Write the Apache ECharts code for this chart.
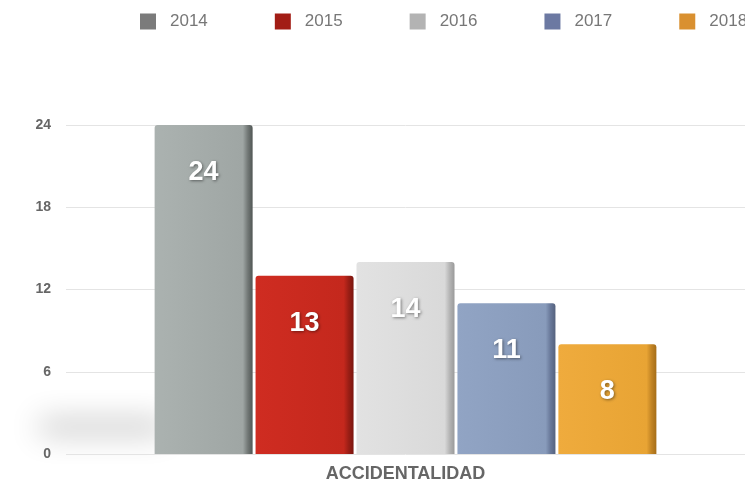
<!DOCTYPE html>
<html>
<head>
<meta charset="utf-8">
<script src="https://cdn.jsdelivr.net/npm/echarts@6/dist/echarts.min.js"></script>
<style>
    html, body { margin: 0; padding: 0; background: #fff; }
    #main { width: 745px; height: 483px; }
</style>
</head>
<body>
<div id="main"></div>
<script>
    // 数据
    var categories = ['ACCIDENTALIDAD'];
    var years = ['2014', '2015', '2016', '2017', '2018'];
    var values = [24, 13, 14, 11, 8];
    var yMin = 0, yMax = 24, yStep = 6;

    // 柱子颜色 (亮面, 面, 边, 暗边) 和图例颜色
    var barColors = [
        ['#abb2b0', '#9fa6a4', '#737977', '#505654'],
        ['#cf2c21', '#c4281d', '#9a1e15', '#7a160f'],
        ['#e2e2e2', '#d9d9d9', '#b5b5b5', '#9a9a9a'],
        ['#91a4c4', '#889bbb', '#687899', '#55627e'],
        ['#efab3d', '#e8a434', '#c28424', '#a56d18']
    ];
    var legendColors = ['#7b7b7b', '#a21d15', '#b3b3b3', '#6c79a2', '#d99030'];

    var myChart = echarts.init(document.getElementById('main'));

    var series = years.map(function (y, i) {
        var c = barColors[i];
        return {
            name: y,
            type: 'bar',
            barWidth: 98,
            barGap: '3%',
            data: [values[i]],
            itemStyle: {
                borderRadius: [3, 3, 0, 0],
                color: new echarts.graphic.LinearGradient(0, 0, 1, 0, [
                    { offset: 0, color: c[0] },
                    { offset: 0.9, color: c[1] },
                    { offset: 0.95, color: c[2] },
                    { offset: 1, color: c[3] }
                ])
            },
            label: {
                show: true,
                position: 'insideTop',
                distance: 34,
                color: '#fff',
                fontSize: 27,
                fontWeight: 'bold',
                fontFamily: 'Liberation Sans',
                textShadowColor: 'rgba(0,0,0,0.45)',
                textShadowBlur: 3,
                textShadowOffsetX: 1,
                textShadowOffsetY: 1
            }
        };
    });

    var option = {
        animation: false,
        // 左下角的阴影 (矩形放在画布外, 只显示阴影)
        graphic: [{
            type: 'rect',
            z: -10,
            shape: { x: -1000 + 40, y: 421, width: 125, height: 12 },
            style: {
                fill: '#000',
                shadowBlur: 30,
                shadowColor: 'rgba(0,0,0,0.3)',
                shadowOffsetX: 1000
            }
        }],
        legend: {
            left: 140,
            top: 13,
            padding: 0,
            width: 800,
            itemWidth: 16,
            itemHeight: 16,
            itemGap: 67,
            icon: 'rect',
            textStyle: {
                color: '#777',
                fontSize: 17,
                fontFamily: 'Liberation Sans',
                padding: [0, 0, 0, 9]
            },
            data: years.map(function (y, i) {
                return { name: y, itemStyle: { color: legendColors[i] } };
            })
        },
        grid: {
            left: 66,
            right: 0,
            top: 125,
            bottom: 29
        },
        xAxis: {
            type: 'category',
            data: categories,
            axisLine: { show: false },
            axisTick: { show: false },
            axisLabel: {
                color: '#666',
                fontSize: 18,
                fontWeight: 'bold',
                fontFamily: 'Liberation Sans',
                margin: 11
            }
        },
        yAxis: {
            type: 'value',
            min: yMin,
            max: yMax,
            interval: yStep,
            axisLabel: {
                color: '#666',
                fontSize: 14,
                fontWeight: 'bold',
                fontFamily: 'Liberation Sans',
                margin: 15
            },
            splitLine: { lineStyle: { color: '#e4e4e4' } }
        },
        series: series
    };
    myChart.setOption(option);
</script>
</body>
</html>
